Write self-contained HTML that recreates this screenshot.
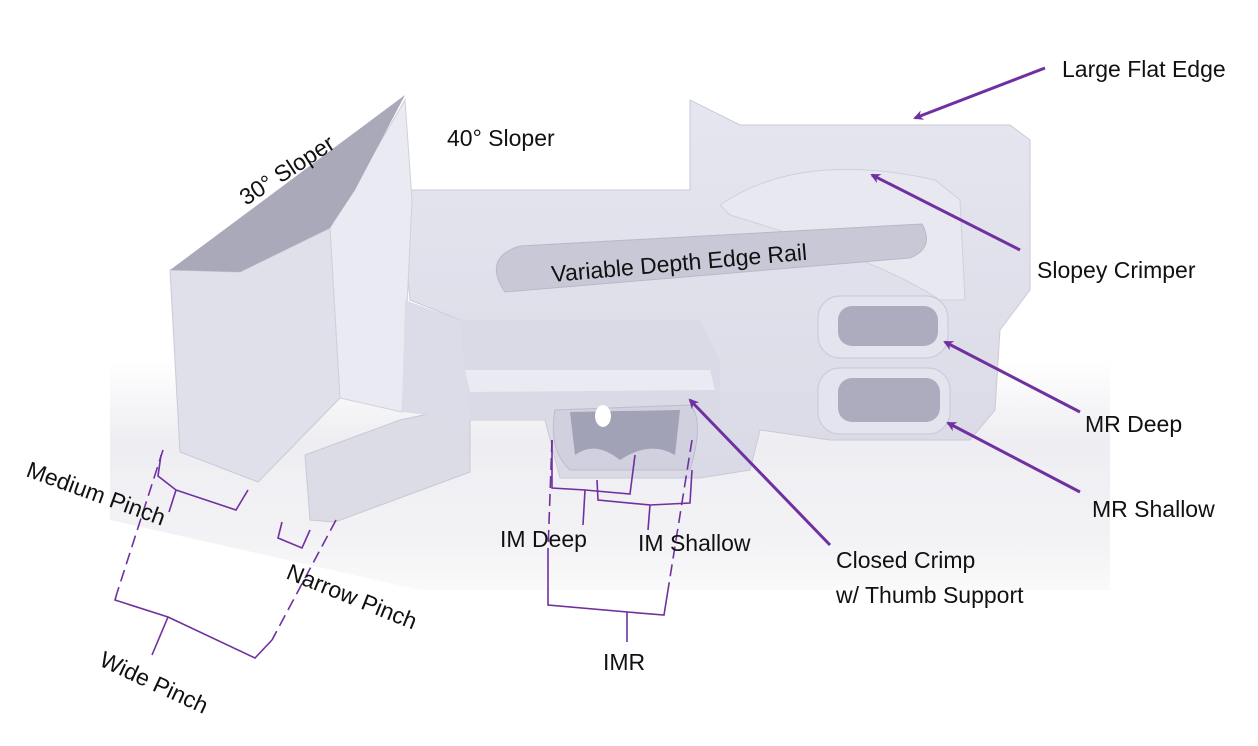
<!DOCTYPE html>
<html><head><meta charset="utf-8"><style>
html,body{margin:0;padding:0;background:#fff;}
svg{display:block}
text{font-family:"Liberation Sans",sans-serif;font-size:23px;fill:#111;}
</style></head><body>
<svg width="1258" height="746" viewBox="0 0 1258 746" xmlns="http://www.w3.org/2000/svg">
<defs>
<linearGradient id="sh" x1="0" y1="0" x2="0" y2="1">
<stop offset="0" stop-color="#fff"/><stop offset="0.35" stop-color="#eeeef2"/><stop offset="0.8" stop-color="#f3f3f6"/><stop offset="1" stop-color="#fafafa"/></linearGradient>
<linearGradient id="body" x1="0" y1="0" x2="0" y2="1">
<stop offset="0" stop-color="#e6e6f0"/><stop offset="1" stop-color="#dadae6"/></linearGradient>
<marker id="ah" markerWidth="10" markerHeight="10" refX="8" refY="5" orient="auto" markerUnits="userSpaceOnUse">
<path d="M0,0 L10,5 L0,10 L3,5 Z" fill="#7030a0"/></marker>
</defs>
<!-- shadow -->
<polygon points="110,360 1110,360 1110,590 420,590 110,520" fill="url(#sh)"/>
<!-- lower left block -->
<polygon points="305,455 310,520 335,522 470,472 470,405 400,420" fill="#dcdce6" stroke="#c8c8d6"/>
<!-- main body -->
<polygon points="400,190 690,190 690,100 740,125 1010,125 1030,140 1030,290 1000,330 995,410 970,440 830,440 760,430 750,470 700,478 560,478 545,420 470,420 460,320 410,300" fill="url(#body)" stroke="#cacad8"/>
<polygon points="455,320 700,320 720,360 720,420 545,420 470,420" fill="#dadae6"/>
<polygon points="465,370 710,370 715,390 470,392" fill="#eaeaf2"/>
<!-- slopey crimper -->
<path d="M720,205 Q800,150 935,180 L960,200 L965,300 L940,300 Q880,260 730,215 Z" fill="#e8e8f0" stroke="#d0d0dc"/>
<!-- rail -->
<path d="M505,292 L910,258 Q935,248 922,224 L520,246 Q482,258 505,292 Z" fill="#c8c8d6" stroke="#b8b8c8"/>
<!-- MR pockets -->
<rect x="818" y="296" width="130" height="62" rx="22" fill="#e4e4ee" stroke="#c8c8d6"/>
<rect x="838" y="306" width="100" height="40" rx="14" fill="#acacbe"/>
<rect x="818" y="368" width="132" height="66" rx="22" fill="#e4e4ee" stroke="#c8c8d6"/>
<rect x="838" y="378" width="102" height="44" rx="14" fill="#acacbe"/>
<!-- crimp pocket -->
<path d="M555,410 L690,405 Q705,420 690,470 L570,470 Q548,450 555,410 Z" fill="#d0d0de" stroke="#bcbccc"/>
<path d="M570,412 L680,410 L675,455 Q650,440 620,460 Q595,440 575,455 Z" fill="#a2a2b6"/>
<ellipse cx="603" cy="416" rx="8" ry="11" fill="#fff"/>
<!-- left block -->
<polygon points="170,270 240,272 330,228 340,398 258,482 180,452" fill="#e0e0ea" stroke="#cacad8"/>
<polygon points="330,228 405,100 412,200 402,412 340,398" fill="#eaeaf2" stroke="#d0d0dc"/>
<polygon points="170,270 405,95 355,190 330,228 240,272" fill="#a9a9ba"/>
<polygon points="405,300 460,320 470,420 402,412" fill="#dcdce8"/>
<!-- arrows -->
<g stroke="#7030a0" stroke-width="3" fill="none" marker-end="url(#ah)">
<line x1="1045" y1="68" x2="915" y2="118"/>
<line x1="1020" y1="250" x2="872" y2="175"/>
<line x1="1080" y1="412" x2="945" y2="342"/>
<line x1="1080" y1="492" x2="948" y2="423"/>
<line x1="830" y1="545" x2="690" y2="400"/>
</g>
<!-- brackets -->
<g stroke="#7030a0" stroke-width="1.6" fill="none">
<path d="M161,455 L158,476 L176,490 L169,512 M176,490 L236,510 L248,490"/>
<path d="M282,522 L278,538 L302,548 L310,530"/>
<path d="M117,593 L115,600 L168,617 L152,655 M168,617 L255,658 L272,640"/>
<path d="M552,440 L552,488 L585,490 L583,525 M585,490 L630,494 L635,455"/>
<path d="M597,480 L598,500 L650,505 L648,530 M650,505 L690,503 L692,470"/>
<path d="M548,550 L548,605 L627,612 L627,642 M627,612 L664,615 L668,590"/>
</g>
<g stroke="#7030a0" stroke-width="1.6" fill="none" stroke-dasharray="12,6">
<line x1="163" y1="450" x2="117" y2="593"/>
<line x1="336" y1="520" x2="272" y2="640"/>
<line x1="552" y1="440" x2="548" y2="550"/>
<line x1="692" y1="440" x2="668" y2="590"/>
</g>
<!-- labels -->
<text x="1062" y="77">Large Flat Edge</text>
<text x="447" y="146">40° Sloper</text>
<text transform="translate(246,206) rotate(-33)">30° Sloper</text>
<text transform="translate(552,282) rotate(-5)">Variable Depth Edge Rail</text>
<text x="1037" y="278">Slopey Crimper</text>
<text x="1085" y="432">MR Deep</text>
<text x="1092" y="517">MR Shallow</text>
<text x="836" y="568">Closed Crimp</text>
<text x="836" y="603">w/ Thumb Support</text>
<text x="500" y="547">IM Deep</text>
<text x="638" y="551">IM Shallow</text>
<text x="603" y="670">IMR</text>
<text transform="translate(25,476) rotate(20)">Medium Pinch</text>
<text transform="translate(285,578) rotate(22)">Narrow Pinch</text>
<text transform="translate(98,665) rotate(25)">Wide Pinch</text>
</svg>
</body></html>
